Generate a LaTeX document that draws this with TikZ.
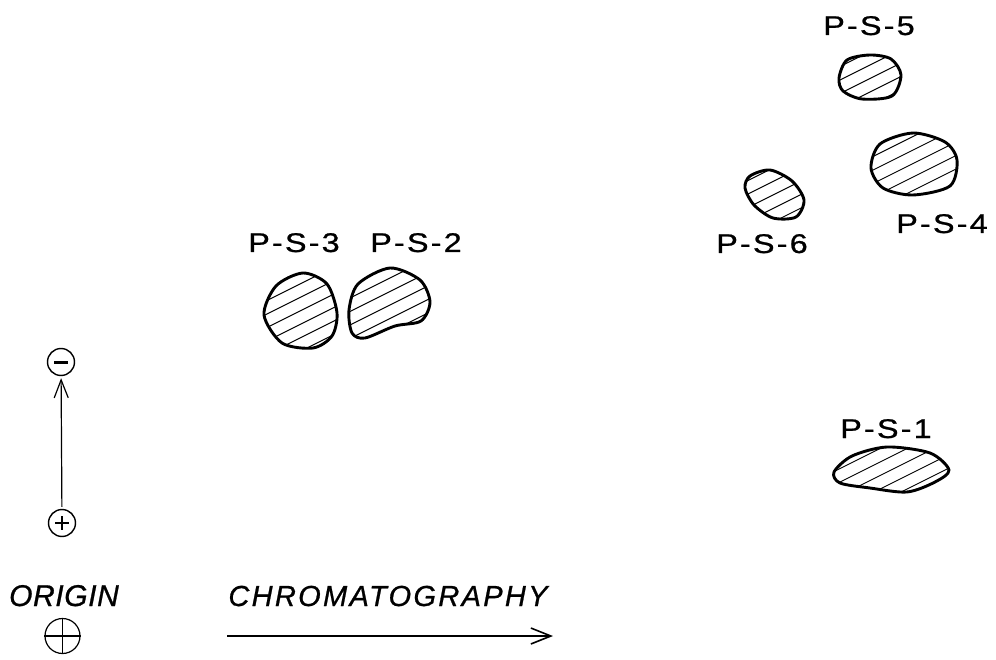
\documentclass[tikz,border=0pt]{standalone}
\usepackage{fontspec}
\setmainfont{Liberation Sans}
\newfontfamily\lblfont{Liberation Sans}[FakeStretch=1.2, LetterSpace=8, FakeBold=0.8]
\newfontfamily\itfont{Liberation Sans}[LetterSpace=8, FakeBold=0.8]
\newfontfamily\orfont{Liberation Sans}[LetterSpace=2, FakeBold=0.8]
\usetikzlibrary{arrows.meta}
\tikzset{
  lbl/.style={font=\lblfont\fontsize{27}{27}\selectfont, inner sep=0pt, anchor=base},
  itlbl/.style={font=\itfont\itshape\fontsize{29}{29}\selectfont, inner sep=0pt, anchor=base},
  orlbl/.style={font=\orfont\itshape\fontsize{30}{30}\selectfont, inner sep=0pt, anchor=base},
  hatch/.style={line width=0.9pt},
  blobline/.style={line width=2.9pt, line join=round},
  sym/.style={circle, draw, line width=1.4pt, inner sep=0pt},
}
\newcommand\spot[2]{%
  \begin{scope}
    \clip plot[smooth cycle] coordinates {#2};
    \begin{scope}[shift={(#1)}]
      \foreach \k in {-9,...,9}
        \draw[hatch] (-90,{45+13.5*\k}) -- ++(180,-90);
    \end{scope}
  \end{scope}
  \draw[blobline] plot[smooth cycle] coordinates {#2};}
\begin{document}
\begin{tikzpicture}[x=1pt,y=-1pt]
\useasboundingbox (0,0) rectangle (996,660);

% spots
\spot{871,78}{(847,60) (870,55) (891,59) (901,75) (892,96) (862,99) (843,91) (839,78)}
\spot{914,163}{(913,133) (945,142) (957,160) (950,186) (913,195) (883,188) (871,168) (880,144)}
\spot{775,194}{(750,176) (770,170) (792,181) (804,200) (796,217) (773,218) (754,205) (745,188)}
\spot{300,311}{(303,273) (327,284) (337,313) (332,336) (313,348) (282,343) (264,315) (276,286)}
\spot{390,305}{(390,268) (420,280) (430,302) (421,321) (395,326) (365,338) (352,333) (349,310) (358,284)}
\spot{891,470}{(834,472) (852,456) (887,447) (930,453) (949,470) (935,482) (907,492) (870,488) (840,483)}

% labels
\node[lbl] (l5) at (869,35) {P-S-5};
\node[lbl] (l4) at (942,233) {P-S-4};
\node[lbl] (l6) at (762,253) {P-S-6};
\node[lbl] (l3) at (294,252) {P-S-3};
\node[lbl] (l2) at (416,252) {P-S-2};
\node[lbl] (l1) at (886,438) {P-S-1};

% electrophoresis direction
\node[sym, minimum size=27pt] (minus) at (61,362) {};
\draw[line width=3pt] (54,362) -- (68,362);
\node[sym, minimum size=27pt] (plus) at (62,523) {};
\draw[line width=2.2pt] (55,523) -- (69,523) (62,516) -- (62,530);
\draw[line width=1.2pt, -{Straight Barb[length=18pt,width=14pt,line width=1.2pt]}, shorten >=2pt, shorten <=2pt] (plus) -- (minus);

% origin
\node[orlbl] (origin) at (64,606) {ORIGIN};
\node[sym, minimum size=35pt, line width=1.2pt] (osym) at (62.5,636) {};
\draw[line width=1.2pt] (osym.west) -- (osym.east) (osym.north) -- (osym.south);

% chromatography
\node[itlbl] (chrom) at (388,606) {CHROMATOGRAPHY};
\coordinate (ca) at (227,636);
\coordinate (cb) at (553,636);
\draw[line width=2pt, -{Straight Barb[length=20pt,width=16pt,line width=1.6pt]}] (ca) -- (cb);
\end{tikzpicture}
\end{document}
